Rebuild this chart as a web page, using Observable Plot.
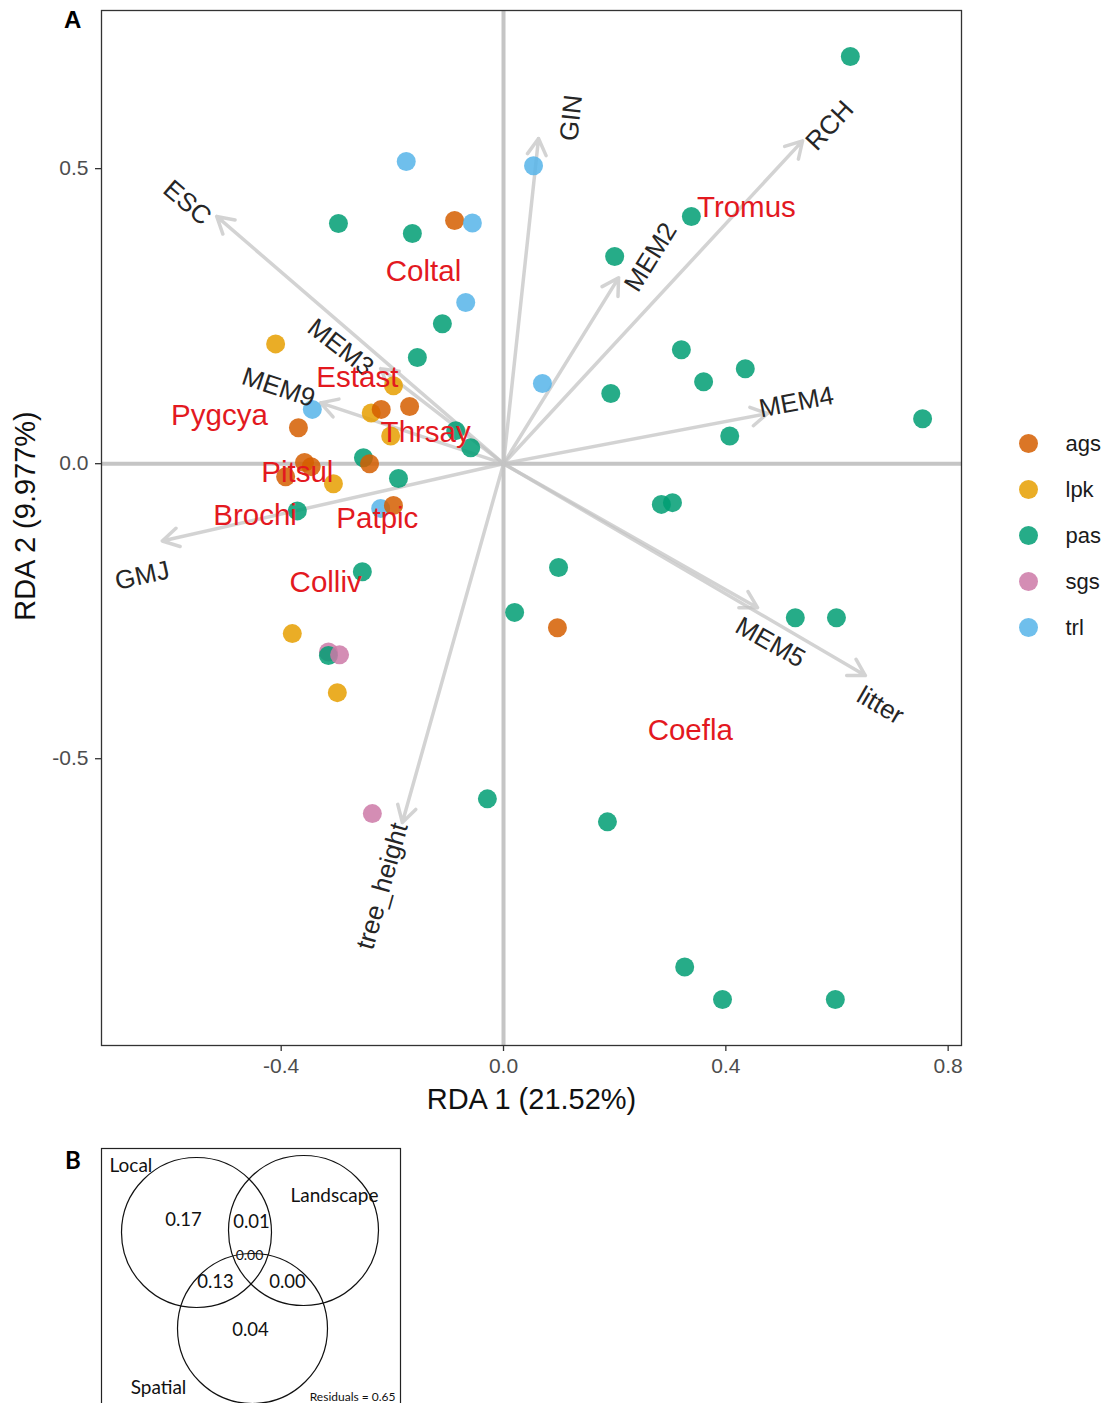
<!DOCTYPE html>
<html>
<head>
<meta charset="utf-8">
<script src="https://cdn.jsdelivr.net/npm/d3@7"></script>
<script src="https://cdn.jsdelivr.net/npm/@observablehq/plot@0.6"></script>
<style>
  body { margin: 0; background: #fff; font-family: "Liberation Sans", Arial, sans-serif; }
  #wrap { position: relative; width: 1110px; height: 1403px; overflow: hidden; background: #fff; }
  #wrap > * { position: absolute; }
  .panel { font-weight: bold; font-size: 24px; line-height: 26px; color: #000; }
</style>
</head>
<body>
<div id="wrap"></div>
<script>
// ---------------- DATA ----------------
const groups = ["ags", "lpk", "pas", "sgs", "trl"];

// Site scores (RDA1, RDA2) and their group
const siteGroup = ["pas","trl","trl","pas","ags","trl","pas","pas","pas","trl",
  "pas","lpk","pas","pas","pas","pas","trl","pas","lpk","pas",
  "pas","trl","lpk","ags","ags","ags","lpk","pas","pas","pas",
  "ags","ags","ags","ags","lpk","pas","pas","trl","ags","pas",
  "pas","pas","pas","pas","ags","pas","pas","lpk","sgs","pas",
  "sgs","lpk","sgs","pas","pas","pas","pas","pas"];
const siteRDA1 = [0.624,-0.175,0.054,-0.297,-0.088,-0.056,-0.164,0.338,0.200,-0.068,
  -0.110,-0.410,-0.155,0.320,0.435,0.360,0.070,0.193,-0.198,0.754,
  0.407,-0.344,-0.238,-0.220,-0.169,-0.369,-0.203,-0.086,-0.059,-0.252,
  -0.241,-0.358,-0.346,-0.392,-0.306,-0.189,-0.371,-0.221,-0.198,-0.254,
  0.284,0.304,0.099,0.020,0.097,0.525,0.599,-0.380,-0.315,-0.315,
  -0.295,-0.299,-0.236,-0.029,0.187,0.326,0.394,0.597];
const siteRDA2 = [0.690,0.512,0.505,0.407,0.412,0.408,0.390,0.419,0.351,0.273,
  0.237,0.203,0.180,0.193,0.161,0.139,0.136,0.119,0.132,0.076,
  0.047,0.092,0.086,0.092,0.097,0.061,0.047,0.056,0.027,0.010,
  0.000,0.002,-0.005,-0.022,-0.034,-0.025,-0.080,-0.076,-0.071,-0.183,
  -0.069,-0.066,-0.176,-0.252,-0.278,-0.261,-0.261,-0.288,-0.319,-0.325,
  -0.324,-0.388,-0.593,-0.568,-0.607,-0.853,-0.908,-0.908];

// Explanatory variable arrows (tip) and label anchor
const envNames = ["ESC","GIN","RCH","MEM2","MEM3","MEM4","MEM5","MEM9","GMJ","litter","tree_height"];
const envRDA1 = [-0.516,0.063,0.538,0.207,-0.221,0.475,0.457,-0.329,-0.614,0.651,-0.182];
const envRDA2 = [0.419,0.551,0.547,0.315,0.161,0.085,-0.244,0.103,-0.131,-0.359,-0.608];
const envLabelRDA1 = [-0.569,0.122,0.587,0.265,-0.293,0.527,0.480,-0.405,-0.650,0.678,-0.218];
const envLabelRDA2 = [0.442,0.586,0.573,0.350,0.197,0.104,-0.303,0.129,-0.190,-0.410,-0.716];

// Species scores
const speciesNames = ["Tromus","Coltal","Estast","Pygcya","Thrsay","Pitsul","Brochi","Patpic","Colliv","Coefla"];
const speciesRDA1 = [0.437,-0.144,-0.263,-0.511,-0.140,-0.371,-0.447,-0.227,-0.320,0.336];
const speciesRDA2 = [0.434,0.325,0.146,0.081,0.053,-0.015,-0.088,-0.093,-0.202,-0.453];

const xTicks = [-0.4, 0.0, 0.4, 0.8];
const yTicks = [-0.5, 0.0, 0.5];
const xTitle = "RDA 1 (21.52%)";
const yTitle = "RDA 2 (9.977%)";

// Variation partitioning (panel B)
const vennSets = ["Local", "Landscape", "Spatial"];
const vennRegions = ["Local", "Local∩Landscape", "Local∩Landscape∩Spatial", "Local∩Spatial", "Landscape∩Spatial", "Spatial"];
const vennValues = [0.17, 0.01, 0.00, 0.13, 0.00, 0.04];
const vennResidual = 0.65;

// ---------------- STYLE / LAYOUT ----------------
const groupColors = ["#D55E00", "#E69F00", "#009E73", "#CC79A7", "#56B4E9"];
const W = 1110, H = 1120, mL = 101, mR = 149, mT = 10, mB = 75;
const xDomain = [-0.7233, 0.824], yDomain = [-0.986, 0.768];
const kx = (W - mL - mR) / (xDomain[1] - xDomain[0]);
const ky = (H - mT - mB) / (yDomain[1] - yDomain[0]);
function textAngle(x, y) {
  let a = Math.atan2(-y * ky, x * kx) * 180 / Math.PI;
  if (a > 90) a -= 180;
  if (a < -90) a += 180;
  return a;
}

const sites = siteGroup.map((g, i) => ({group: g, RDA1: siteRDA1[i], RDA2: siteRDA2[i]}));
const env = envNames.map((n, i) => ({name: n, RDA1: envRDA1[i], RDA2: envRDA2[i], lx: envLabelRDA1[i], ly: envLabelRDA2[i]}));
const spp = speciesNames.map((n, i) => ({name: n, RDA1: speciesRDA1[i], RDA2: speciesRDA2[i]}));

const font = "'Liberation Sans', Arial, Helvetica, sans-serif";
const wrap = document.getElementById("wrap");

const main = Plot.plot({
  width: W, height: H,
  marginLeft: mL, marginRight: mR, marginTop: mT, marginBottom: mB,
  style: {fontFamily: font, background: "white", overflow: "visible"},
  x: {domain: xDomain},
  y: {domain: yDomain},
  color: {domain: groups, range: groupColors},
  marks: [
    Plot.ruleX([0], {stroke: "#8c8c8c", strokeOpacity: 0.5, strokeWidth: 4}),
    Plot.ruleY([0], {stroke: "#8c8c8c", strokeOpacity: 0.5, strokeWidth: 4}),
    Plot.arrow(env, {x1: () => 0, y1: () => 0, x2: "RDA1", y2: "RDA2",
      stroke: "#c4c4c4", strokeOpacity: 0.75, strokeWidth: 3.5, headLength: 8, headAngle: 60}),
    Plot.dot(sites, {x: "RDA1", y: "RDA2", fill: "group", r: 9.5, fillOpacity: 0.85}),
    Plot.text(env, {x: "lx", y: "ly", text: "name", rotate: d => textAngle(d.RDA1, d.RDA2),
      fontSize: 26, fill: "#262626"}),
    Plot.text(spp, {x: "RDA1", y: "RDA2", text: "name", fill: "#e3191f", fontSize: 29.5}),
    Plot.frame({stroke: "#333", strokeWidth: 1.3}),
    Plot.axisX({ticks: xTicks, tickFormat: d => d.toFixed(1), tickSize: 6, tickPadding: 7,
      fontSize: 21, fill: "#4d4d4d", stroke: "#333", strokeWidth: 1.3, label: null}),
    Plot.axisY({ticks: yTicks, tickFormat: d => d.toFixed(1), tickSize: 6, tickPadding: 7,
      fontSize: 21, fill: "#4d4d4d", stroke: "#333", strokeWidth: 1.3, label: null}),
    Plot.text([xTitle], {text: d => d, frameAnchor: "bottom", textAnchor: "middle", lineAnchor: "middle",
      dy: 54, fontSize: 29, fill: "#111"}),
    Plot.text([yTitle], {text: d => d, frameAnchor: "left", textAnchor: "middle", lineAnchor: "middle",
      dx: -76, dy: -12, rotate: -90, fontSize: 29, fill: "#111"})
  ]
});
main.style.left = "0px"; main.style.top = "0px";
wrap.appendChild(main);

// Legend
const legend = Plot.plot({
  width: 130, height: 240, margin: 0,
  style: {fontFamily: font, background: "transparent"},
  x: {domain: [0, 1], range: [38, 75], axis: null},
  y: {type: "point", domain: groups, range: [23, 207], padding: 0, axis: null},
  color: {domain: groups, range: groupColors},
  marks: [
    Plot.dot(groups, {x: () => 0, y: d => d, fill: d => d, r: 9.5, fillOpacity: 0.85}),
    Plot.text(groups, {x: () => 1, y: d => d, text: d => d, textAnchor: "start", fontSize: 22, fill: "#1a1a1a"})
  ]
});
legend.style.left = "990px"; legend.style.top = "420px";
wrap.appendChild(legend);

// Panel B: Venn diagram of variation partitioning
const vennCircleCenters = [[95, 84], [202, 82], [151, 180]];
const vennSetLabelPos = [[8, 17], [233, 47], [57, 239]];
const vennSetLabelAnchor = ["start", "middle", "middle"];
const vennValuePos = [[82, 72], [150, 74], [148, 107], [114, 134], [186, 134], [149, 182]];
const circles = vennSets.map((s, i) => ({set: s, cx: vennCircleCenters[i][0], cy: vennCircleCenters[i][1]}));
const setLabels = vennSets.map((s, i) => ({set: s, x: vennSetLabelPos[i][0], y: vennSetLabelPos[i][1], anchor: vennSetLabelAnchor[i]}));
const regions = vennRegions.map((r, i) => ({region: r, value: vennValues[i], x: vennValuePos[i][0], y: vennValuePos[i][1], small: i === 2}));
const vfont = "Lato, 'Open Sans', sans-serif";

const venn = Plot.plot({
  width: 420, height: 280,
  marginLeft: 101, marginRight: 20, marginTop: 18, marginBottom: 0,
  style: {fontFamily: vfont, background: "transparent", overflow: "visible"},
  x: {domain: [0, 299], axis: null},
  y: {domain: [0, 262], reverse: true, axis: null},
  marks: [
    Plot.frame({stroke: "#222", strokeWidth: 1.2}),
    Plot.dot(circles, {x: "cx", y: "cy", r: 75, stroke: "#111", strokeWidth: 1.2, fill: "none"}),
    Plot.text(setLabels.filter(d => d.anchor === "start"), {x: "x", y: "y", text: "set", textAnchor: "start", fontSize: 19, fill: "#111"}),
    Plot.text(setLabels.filter(d => d.anchor !== "start"), {x: "x", y: "y", text: "set", fontSize: 19, fill: "#111"}),
    Plot.text(regions.filter(d => !d.small), {x: "x", y: "y", text: d => d.value.toFixed(2), fontSize: 18.5, fill: "#111"}),
    Plot.text(regions.filter(d => d.small), {x: "x", y: "y", text: d => d.value.toFixed(2), fontSize: 14, fill: "#111"}),
    Plot.text([vennResidual], {x: () => 294, y: () => 249, text: d => "Residuals = " + d.toFixed(2), textAnchor: "end", fontSize: 12, fill: "#111"})
  ]
});
venn.style.left = "0px"; venn.style.top = "1130px";
wrap.appendChild(venn);

// Panel letters
const pa = document.createElement("div");
pa.className = "panel"; pa.textContent = "A";
pa.style.left = "64px"; pa.style.top = "7px";
wrap.appendChild(pa);
const pb = document.createElement("div");
pb.className = "panel"; pb.textContent = "B";
pb.style.left = "65px"; pb.style.top = "1147px";
pb.style.fontFamily = "Lato, 'Open Sans', sans-serif";
wrap.appendChild(pb);
</script>
</body>
</html>
